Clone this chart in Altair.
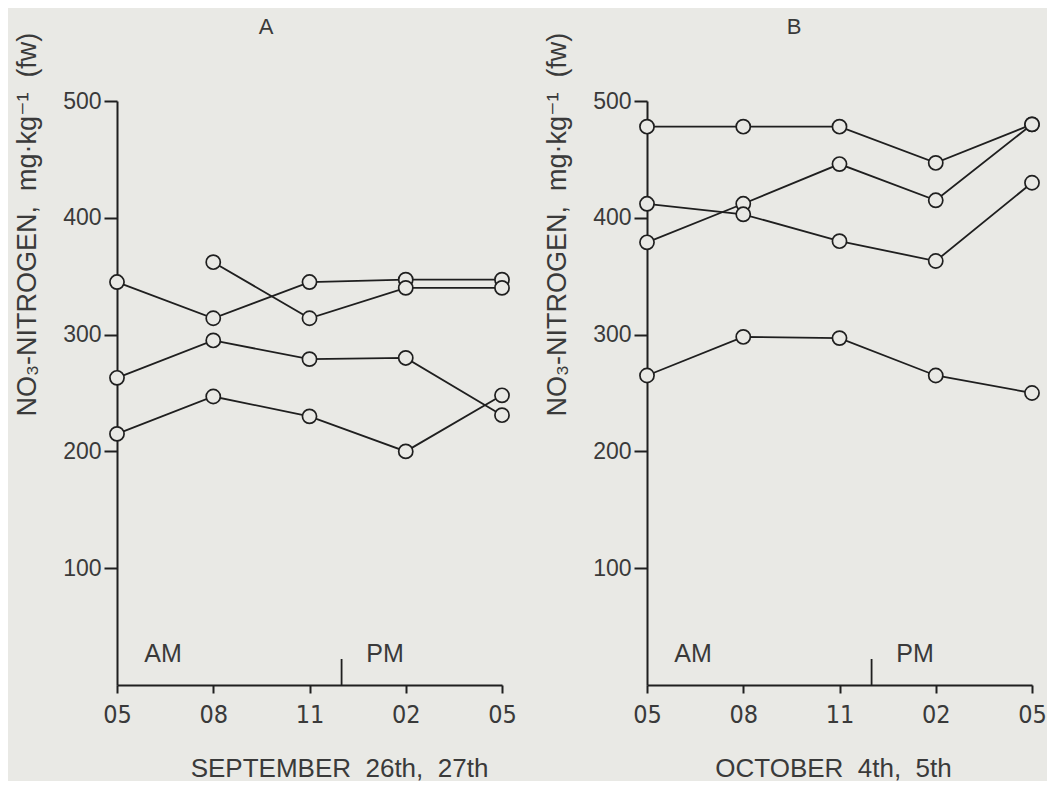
import altair as alt
import pandas as pd

# ---- data ----
hours = [0, 3, 6, 9, 12]
x_labels = ["05", "08", "11", "02", "05"]
y_ticks = [100, 200, 300, 400, 500]

# Panel A: September 26th, 27th
a1 = [345, 314, 345, 347, 347]
a2 = [None, 362, 314, 340, 340]
a3 = [263, 295, 279, 280, 231]
a4 = [215, 247, 230, 200, 248]

# Panel B: October 4th, 5th
b1 = [478, 478, 478, 447, 480]
b2 = [379, 412, 446, 415, 480]
b3 = [412, 403, 380, 363, 430]
b4 = [265, 298, 297, 265, 250]

noon_hour = 7

BG = "#e9e9e5"
INK = "#1f1f1f"
TXT = "#3a3a3a"
FONT = "Liberation Sans, Arial, DejaVu Sans"
NARROW = "Liberation Sans Narrow, DejaVu Sans Condensed, Liberation Sans"

W, H = 385, 584
SP = " \u00a0"  # a slightly wider word gap, as in the typeset original


def make_df(series):
    rows = []
    for name, vals in series.items():
        for h, v in zip(hours, vals):
            if v is not None:
                rows.append({"series": name, "hour": h, "value": v})
    return pd.DataFrame(rows)


label_expr = " : ".join(
    f"datum.value == {h} ? '{l}'" for h, l in zip(hours, x_labels)
) + " : ''"

ytitle = f"NO₃-NITROGEN,{SP}mg·kg⁻¹{SP}(fw)"


def panel(df, letter, letter_x, xtitle, xtitle_x):
    x = alt.X(
        "hour:Q",
        scale=alt.Scale(domain=[0, 12], nice=False, zero=False),
        axis=alt.Axis(
            values=hours, labelExpr=label_expr, title=xtitle,
            tickSize=8, labelPadding=9, labelFont=NARROW, labelFontSize=25,
            titleFont=FONT, titleFontSize=26, titleFontWeight="normal",
            titleAlign="center", titleBaseline="alphabetic",
            titleX=xtitle_x, titleY=91, labelFlush=False,
        ),
    )
    y = alt.Y(
        "value:Q",
        scale=alt.Scale(domain=[0, 500], nice=False),
        axis=alt.Axis(
            values=y_ticks, title=ytitle, tickSize=13, labelPadding=3,
            labelFont=FONT, labelFontSize=23,
            titleFont=FONT, titleFontSize=27, titleFontWeight="normal",
            titleAngle=270, titleAlign="center", titleBaseline="bottom",
            titleX=-76, titleY=123,
        ),
    )
    base = alt.Chart(df)
    lines = base.mark_line(color=INK, strokeWidth=1.8).encode(
        x=x, y=y, detail="series:N"
    )
    pts = base.mark_point(
        shape="circle", size=200, filled=True, fill=BG, fillOpacity=1,
        stroke=INK, strokeWidth=1.7, opacity=1,
    ).encode(x=x, y=y)
    noon = alt.Chart(pd.DataFrame({"h": [noon_hour]})).mark_rule(
        color=INK, strokeWidth=1.8
    ).encode(x="h:Q", y=alt.value(H), y2=alt.value(H - 26))
    ampm = alt.Chart(pd.DataFrame({"t": ["AM", "PM"], "px": [46, 268]})).mark_text(
        font=FONT, fontSize=25, color=TXT, baseline="alphabetic", align="center"
    ).encode(text="t:N", x=alt.X("px:Q", scale=None), y=alt.value(H - 23))
    head = alt.Chart(pd.DataFrame({"t": [letter]})).mark_text(
        font=FONT, fontSize=22, color=TXT, baseline="alphabetic", align="center"
    ).encode(text="t:N", x=alt.value(letter_x), y=alt.value(-67))
    return alt.layer(lines, pts, noon, ampm, head).properties(width=W, height=H)


dfA = make_df({"a1": a1, "a2": a2, "a3": a3, "a4": a4})
dfB = make_df({"b1": b1, "b2": b2, "b3": b3, "b4": b4})

pA = panel(dfA, "A", 149, f"SEPTEMBER{SP}26th,{SP}27th", 222)
pB = panel(dfB, "B", 147, f"OCTOBER{SP}4th,{SP}5th", 186)

chart = alt.hconcat(pA, pB, spacing=145, bounds="flush").properties(
    background=BG,
    padding={"top": 8, "left": 4, "right": 0, "bottom": 0},
).configure_view(stroke=None).configure_axis(
    grid=False, domainColor=INK, tickColor=INK, domainWidth=2, tickWidth=2,
    labelColor=TXT, titleColor=TXT,
)

chart.save("out.html", embed_options={"renderer": "svg", "actions": False})
